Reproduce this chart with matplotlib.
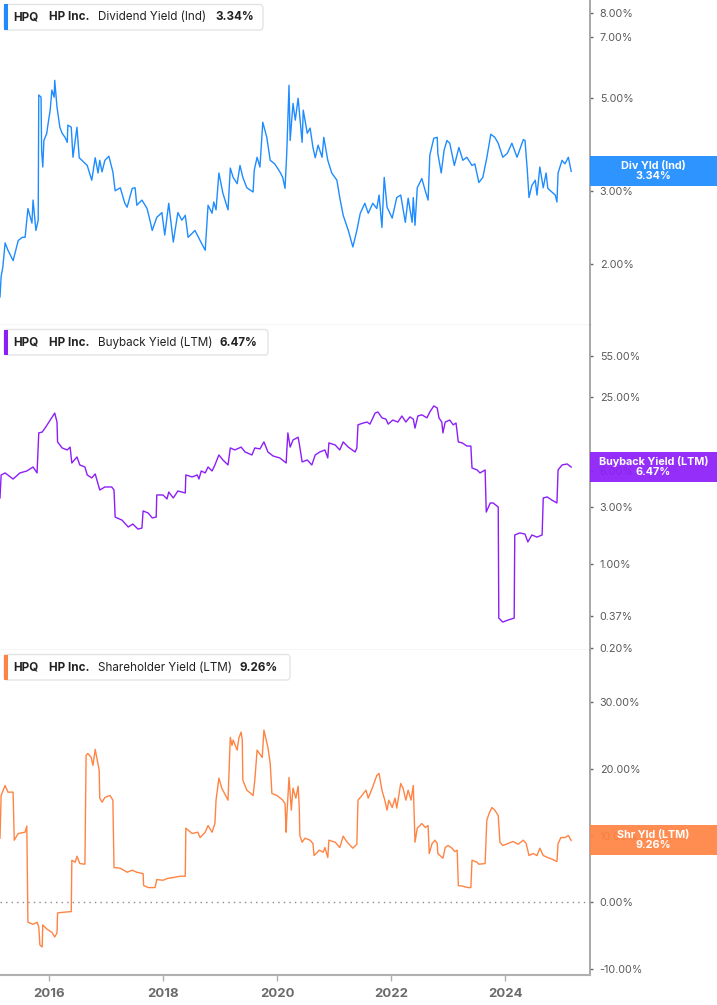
import matplotlib
matplotlib.use("Agg")
import matplotlib.pyplot as plt
from matplotlib.patches import Rectangle, FancyBboxPatch
from matplotlib.ticker import FixedLocator, FuncFormatter, NullLocator

plt.rcParams['font.family'] = ['Inter', 'DejaVu Sans']

# ---- data (decimal year, yield in %) ----
div_dates = [2015.14, 2015.16, 2015.19, 2015.23, 2015.28, 2015.37, 2015.46, 2015.53, 2015.58, 2015.63,
             2015.70, 2015.72, 2015.77, 2015.81, 2015.82, 2015.86, 2015.87, 2015.89, 2015.91, 2015.96,
             2015.98, 2016.02, 2016.05, 2016.09, 2016.10, 2016.14, 2016.19, 2016.23, 2016.28, 2016.32,
             2016.33, 2016.39, 2016.42, 2016.49, 2016.53, 2016.67, 2016.75, 2016.81, 2016.86, 2016.89,
             2016.93, 2016.98, 2017.05, 2017.12, 2017.16, 2017.25, 2017.33, 2017.37, 2017.46, 2017.51,
             2017.54, 2017.63, 2017.72, 2017.77, 2017.81, 2017.89, 2017.98, 2018.03, 2018.10, 2018.18,
             2018.26, 2018.33, 2018.39, 2018.44, 2018.56, 2018.65, 2018.74, 2018.77, 2018.79, 2018.86,
             2018.89, 2018.93, 2018.98, 2019.05, 2019.14, 2019.18, 2019.23, 2019.30, 2019.35, 2019.40,
             2019.47, 2019.58, 2019.60, 2019.65, 2019.70, 2019.75, 2019.82, 2019.88, 2019.96, 2020.05,
             2020.10, 2020.14, 2020.17, 2020.21, 2020.23, 2020.28, 2020.32, 2020.37, 2020.44, 2020.46,
             2020.53, 2020.58, 2020.63, 2020.67, 2020.72, 2020.79, 2020.82, 2020.89, 2020.96, 2021.05,
             2021.10, 2021.16, 2021.25, 2021.33, 2021.40, 2021.46, 2021.54, 2021.60, 2021.68, 2021.75,
             2021.79, 2021.84, 2021.88, 2021.93, 2022.02, 2022.10, 2022.17, 2022.25, 2022.30, 2022.37,
             2022.39, 2022.42, 2022.46, 2022.54, 2022.60, 2022.65, 2022.68, 2022.75, 2022.81, 2022.82,
             2022.88, 2022.93, 2022.98, 2023.03, 2023.11, 2023.19, 2023.26, 2023.33, 2023.42, 2023.47,
             2023.54, 2023.61, 2023.68, 2023.75, 2023.82, 2023.88, 2023.96, 2024.04, 2024.12, 2024.21,
             2024.32, 2024.35, 2024.39, 2024.42, 2024.47, 2024.53, 2024.56, 2024.61, 2024.67, 2024.72,
             2024.75, 2024.82, 2024.88, 2024.91, 2024.93, 2025.00, 2025.05, 2025.11, 2025.16]
div_vals = [1.67, 1.87, 1.97, 2.25, 2.16, 2.04, 2.28, 2.32, 2.32, 2.72,
            2.51, 2.85, 2.41, 2.55, 5.09, 5.03, 3.75, 3.42, 3.96, 4.12,
            4.31, 4.68, 5.23, 5.03, 5.52, 4.76, 4.26, 4.12, 4.03, 3.92,
            4.31, 4.26, 3.61, 4.26, 3.60, 3.45, 3.18, 3.60, 3.31, 3.55,
            3.33, 3.55, 3.63, 3.33, 3.00, 3.05, 2.80, 2.74, 3.04, 3.05,
            2.77, 2.85, 2.72, 2.55, 2.41, 2.59, 2.66, 2.35, 2.80, 2.26,
            2.66, 2.55, 2.62, 2.32, 2.41, 2.28, 2.16, 2.52, 2.77, 2.65,
            2.82, 2.70, 3.31, 2.96, 2.70, 3.40, 3.23, 3.12, 3.45, 3.23,
            3.05, 2.98, 3.36, 3.61, 3.42, 4.38, 4.03, 3.55, 3.48, 3.33,
            3.23, 3.04, 3.69, 5.37, 3.96, 4.86, 4.43, 5.00, 3.92, 4.68,
            4.12, 4.24, 3.81, 3.60, 3.86, 3.61, 4.03, 3.55, 3.31, 3.18,
            2.89, 2.62, 2.41, 2.20, 2.41, 2.65, 2.80, 2.65, 2.80, 2.72,
            2.93, 2.45, 3.23, 2.74, 2.58, 2.89, 2.93, 2.52, 2.88, 2.52,
            2.89, 2.48, 3.05, 3.21, 3.00, 2.85, 3.65, 4.01, 4.03, 3.69,
            3.31, 3.75, 3.96, 3.90, 3.45, 3.81, 3.55, 3.61, 3.45, 3.48,
            3.14, 3.23, 3.60, 4.10, 4.03, 3.90, 3.61, 3.69, 3.90, 3.61,
            3.98, 3.96, 3.36, 2.89, 3.09, 3.18, 2.93, 3.42, 3.05, 3.31,
            3.04, 2.98, 2.93, 2.82, 3.31, 3.55, 3.48, 3.61, 3.34]

buy_dates = [2015.14, 2015.16, 2015.23, 2015.37, 2015.49, 2015.61, 2015.72, 2015.79, 2015.82, 2015.88,
             2015.93, 2016.02, 2016.10, 2016.14, 2016.15, 2016.23, 2016.32, 2016.37, 2016.40, 2016.49,
             2016.54, 2016.63, 2016.67, 2016.75, 2016.81, 2016.89, 2016.98, 2017.10, 2017.14, 2017.16,
             2017.28, 2017.39, 2017.47, 2017.56, 2017.63, 2017.65, 2017.74, 2017.81, 2017.88, 2017.89,
             2018.00, 2018.07, 2018.10, 2018.18, 2018.26, 2018.39, 2018.40, 2018.51, 2018.60, 2018.63,
             2018.67, 2018.74, 2018.79, 2018.86, 2018.91, 2018.98, 2019.05, 2019.14, 2019.18, 2019.26,
             2019.37, 2019.44, 2019.56, 2019.61, 2019.70, 2019.77, 2019.84, 2019.93, 2020.05, 2020.16,
             2020.17, 2020.19, 2020.23, 2020.28, 2020.37, 2020.40, 2020.44, 2020.53, 2020.61, 2020.67,
             2020.75, 2020.84, 2020.89, 2020.91, 2021.02, 2021.10, 2021.16, 2021.25, 2021.37, 2021.40,
             2021.42, 2021.51, 2021.58, 2021.63, 2021.72, 2021.77, 2021.84, 2021.91, 2021.95, 2022.03,
             2022.12, 2022.19, 2022.26, 2022.33, 2022.39, 2022.42, 2022.47, 2022.54, 2022.63, 2022.68,
             2022.75, 2022.81, 2022.84, 2022.89, 2022.91, 2022.95, 2023.03, 2023.09, 2023.14, 2023.18,
             2023.25, 2023.33, 2023.40, 2023.42, 2023.51, 2023.56, 2023.65, 2023.67, 2023.74, 2023.79,
             2023.88, 2023.89, 2023.96, 2024.05, 2024.16, 2024.17, 2024.26, 2024.35, 2024.40, 2024.47,
             2024.56, 2024.65, 2024.67, 2024.74, 2024.82, 2024.91, 2024.93, 2025.00, 2025.09, 2025.16]
buy_vals = [3.57, 5.56, 5.78, 5.14, 5.78, 6.00, 6.48, 5.78, 12.5, 12.7,
            13.7, 16.0, 18.3, 15.4, 10.5, 9.35, 9.00, 9.50, 7.00, 7.86,
            6.74, 6.48, 5.56, 5.25, 5.67, 4.16, 4.41, 4.41, 4.16, 2.47,
            2.33, 2.04, 2.16, 1.96, 2.00, 2.78, 2.67, 2.43, 2.47, 3.78,
            3.78, 3.50, 4.00, 3.57, 4.08, 3.93, 5.56, 5.35, 5.56, 5.14,
            6.00, 5.78, 6.48, 6.00, 6.74, 8.17, 7.42, 6.74, 9.35, 9.00,
            9.50, 8.65, 8.17, 9.35, 9.18, 10.5, 8.65, 8.01, 7.71, 7.00,
            8.65, 12.5, 9.50, 10.9, 11.5, 9.50, 7.14, 7.42, 6.74, 8.17,
            8.65, 9.00, 7.71, 10.3, 9.90, 9.00, 10.5, 9.50, 8.65, 9.35,
            14.6, 15.1, 15.4, 14.8, 18.3, 18.7, 16.7, 16.3, 14.8, 16.0,
            15.4, 17.3, 15.4, 17.0, 16.3, 13.7, 17.3, 17.7, 16.7, 18.7,
            21.0, 20.2, 16.7, 15.4, 12.5, 15.4, 16.0, 14.6, 15.1, 10.5,
            10.3, 9.70, 9.70, 6.36, 6.12, 5.78, 6.12, 2.72, 3.24, 3.24,
            3.00, 0.353, 0.327, 0.34, 0.353, 1.75, 1.82, 1.78, 1.53, 1.75,
            1.68, 1.75, 3.57, 3.64, 3.43, 3.24, 6.12, 6.74, 6.87, 6.47]

shr_dates = [2015.14, 2015.16, 2015.23, 2015.28, 2015.37, 2015.39, 2015.46, 2015.58, 2015.61, 2015.63,
             2015.72, 2015.79, 2015.82, 2015.84, 2015.88, 2015.89, 2015.96, 2016.05, 2016.10, 2016.14,
             2016.15, 2016.25, 2016.39, 2016.40, 2016.46, 2016.49, 2016.54, 2016.63, 2016.65, 2016.68,
             2016.74, 2016.77, 2016.81, 2016.84, 2016.88, 2016.89, 2016.93, 2016.98, 2017.07, 2017.12,
             2017.14, 2017.25, 2017.37, 2017.46, 2017.54, 2017.65, 2017.66, 2017.74, 2017.86, 2017.89,
             2018.00, 2018.09, 2018.18, 2018.30, 2018.39, 2018.40, 2018.51, 2018.61, 2018.65, 2018.74,
             2018.79, 2018.86, 2018.91, 2018.93, 2018.98, 2019.03, 2019.14, 2019.18, 2019.21, 2019.23,
             2019.30, 2019.33, 2019.37, 2019.39, 2019.40, 2019.47, 2019.58, 2019.61, 2019.65, 2019.74,
             2019.77, 2019.84, 2019.88, 2019.91, 2020.00, 2020.10, 2020.14, 2020.16, 2020.17, 2020.21,
             2020.25, 2020.28, 2020.33, 2020.37, 2020.39, 2020.40, 2020.44, 2020.49, 2020.58, 2020.63,
             2020.65, 2020.74, 2020.81, 2020.84, 2020.89, 2020.91, 2021.02, 2021.10, 2021.16, 2021.23,
             2021.33, 2021.40, 2021.42, 2021.49, 2021.56, 2021.60, 2021.67, 2021.72, 2021.75, 2021.79,
             2021.84, 2021.89, 2021.93, 2021.96, 2022.02, 2022.07, 2022.10, 2022.17, 2022.21, 2022.26,
             2022.30, 2022.35, 2022.39, 2022.42, 2022.46, 2022.54, 2022.60, 2022.65, 2022.67, 2022.72,
             2022.77, 2022.81, 2022.82, 2022.91, 2022.95, 2023.00, 2023.07, 2023.12, 2023.16, 2023.18,
             2023.26, 2023.35, 2023.40, 2023.42, 2023.51, 2023.54, 2023.65, 2023.68, 2023.72, 2023.77,
             2023.82, 2023.88, 2023.91, 2023.96, 2024.05, 2024.14, 2024.23, 2024.32, 2024.37, 2024.42,
             2024.49, 2024.56, 2024.61, 2024.67, 2024.75, 2024.84, 2024.91, 2024.93, 2024.98, 2025.05,
             2025.11, 2025.16]
shr_vals = [9.6, 16.0, 17.5, 16.5, 16.5, 9.3, 10.3, 10.5, 11.4, -3.0,
            -3.3, -3.0, -3.7, -6.4, -6.7, -3.4, -4.0, -4.5, -5.2, -4.6,
            -1.6, -1.5, -1.4, 6.3, 6.0, 6.9, 5.8, 5.7, 22.0, 22.3,
            21.7, 20.5, 22.9, 21.6, 19.8, 15.6, 15.0, 15.7, 16.0, 15.3,
            5.2, 5.1, 4.5, 4.8, 4.5, 4.3, 2.5, 2.2, 2.2, 3.4,
            3.3, 3.6, 3.7, 3.9, 3.9, 11.1, 10.3, 10.5, 9.7, 10.5,
            11.5, 10.5, 11.8, 15.3, 18.6, 17.1, 15.3, 24.7, 23.5, 24.3,
            22.8, 24.6, 25.5, 24.3, 18.3, 16.8, 16.0, 18.3, 22.8, 21.7,
            25.8, 23.2, 20.8, 16.3, 16.0, 15.3, 14.8, 10.5, 12.7, 18.7,
            13.8, 17.1, 15.6, 17.4, 14.2, 10.0, 9.0, 9.6, 9.3, 8.8,
            7.0, 7.8, 7.5, 8.2, 6.7, 9.3, 9.0, 8.2, 9.9, 9.0,
            8.1, 8.7, 15.3, 16.0, 16.8, 15.6, 17.1, 18.3, 19.0, 19.3,
            16.8, 15.3, 13.8, 15.3, 14.2, 15.6, 14.1, 17.8, 17.1, 15.3,
            16.8, 15.3, 17.5, 9.0, 11.1, 11.8, 11.2, 11.5, 7.3, 8.8,
            9.3, 8.8, 7.3, 6.6, 8.2, 8.5, 8.1, 7.6, 7.8, 2.5,
            2.4, 2.2, 2.2, 6.3, 6.0, 5.7, 5.8, 12.3, 13.3, 14.2,
            13.8, 13.0, 9.0, 8.5, 8.8, 9.1, 8.7, 9.3, 8.8, 7.0,
            7.3, 7.0, 8.1, 7.0, 6.7, 6.4, 6.1, 8.8, 9.7, 9.7,
            10.0, 9.26]

year_ticks = [2016, 2018, 2020, 2022, 2024]
div_ticks = [2, 3, 5, 7, 8]
buy_ticks = [0.2, 0.37, 1, 3, 6, 25, 55]
shr_ticks = [-10, 0, 10, 20, 30]

W, H = 717, 1005
fig = plt.figure(figsize=(W / 100, H / 100), dpi=100)


def fig_rect(x0, y0, x1, y1):
    # pixel box (origin top-left) -> figure fraction [left, bottom, width, height]
    return [x0 / W, 1 - y1 / H, (x1 - x0) / W, (y1 - y0) / H]


panels = [
    dict(dates=div_dates, vals=div_vals, ticks=div_ticks, color='#1e8cff', top=0, bottom=325,
         log=True, ylim=(1.43, 8.6), name='Dividend Yield (Ind)', short='Div Yld (Ind)',
         value_x=215, box_end=263),
    dict(dates=buy_dates, vals=buy_vals, ticks=buy_ticks, color='#8c1ef8', top=325, bottom=650,
         log=True, ylim=(0.191, 99.8), name='Buyback Yield (LTM)', short='Buyback Yield (LTM)',
         value_x=219, box_end=268),
    dict(dates=shr_dates, vals=shr_vals, ticks=shr_ticks, color='#ff8444', top=650, bottom=975,
         log=False, ylim=(-10.9, 37.8), name='Shareholder Yield (LTM)', short='Shr Yld (LTM)',
         value_x=240, box_end=290),
]

axes = []
for i, p in enumerate(panels):
    ax = fig.add_axes(fig_rect(0, p['top'], 590, p['bottom']))
    axes.append(ax)
    ax.plot(p['dates'], p['vals'], color=p['color'], lw=1.0)
    if p['log']:
        ax.set_yscale('log')
    ax.set_ylim(*p['ylim'])
    ax.set_xlim(2015.14, 2025.49)

    ax.yaxis.tick_right()
    ax.yaxis.set_major_locator(FixedLocator(p['ticks']))
    ax.yaxis.set_minor_locator(NullLocator())
    ax.yaxis.set_major_formatter(FuncFormatter(lambda v, pos: '%.2f%%' % v))
    ax.tick_params(axis='y', length=2, width=1, color='#666666', labelcolor='#5a5a5a',
                   labelsize=7.8, pad=5)

    for s in ['left', 'top']:
        ax.spines[s].set_visible(False)
    ax.spines['right'].set_color('#9a9a9a')
    ax.spines['right'].set_linewidth(1.2)

    ax.xaxis.set_major_locator(FixedLocator(year_ticks))
    ax.xaxis.set_minor_locator(NullLocator())
    if i < 2:
        ax.spines['bottom'].set_color('#d4d4d4')
        ax.spines['bottom'].set_linewidth(1)
        ax.tick_params(axis='x', length=0, labelbottom=False)
    else:
        ax.spines['bottom'].set_color('#b0b0b0')
        ax.spines['bottom'].set_linewidth(1.5)
        ax.set_xticklabels([str(y) for y in year_ticks])
        ax.tick_params(axis='x', length=4, width=1, color='#b0b0b0', labelcolor='#6a6a6a',
                       labelsize=9.5, pad=5)
        for lbl in ax.get_xticklabels():
            lbl.set_fontweight('bold')
        ax.axhline(0, color='#8a8a8a', lw=1, ls=(0, (1, 3)), zorder=1)

    # legend chip in the top-left corner
    top = p['top'] + 4.5
    chip = FancyBboxPatch((4 / W, 1 - (top + 25.5) / H), (p['box_end'] - 4) / W, 25.5 / H,
                          boxstyle='round,pad=0,rounding_size=0.004', transform=fig.transFigure,
                          facecolor='white', edgecolor='#e4e4e4', lw=1, zorder=5)
    fig.patches.append(chip)
    fig.patches.append(Rectangle((4 / W, 1 - (top + 25.5) / H), 3.5 / W, 25.5 / H,
                                 transform=fig.transFigure, facecolor=p['color'], lw=0, zorder=6))
    ty = 1 - (top + 13) / H
    fig.text(13 / W, ty, 'HPQ', fontsize=8.4, fontweight='bold', color='#222222', va='center', zorder=7)
    fig.text(49 / W, ty, 'HP Inc.', fontsize=8.4, fontweight='bold', color='#222222', va='center', zorder=7)
    fig.text(98 / W, ty, p['name'], fontsize=8.4, color='#222222', va='center', zorder=7)
    fig.text(p['value_x'] / W, ty, '%.2f%%' % p['vals'][-1], fontsize=8.4, fontweight='bold',
             color='#222222', va='center', zorder=7)

# callout boxes on the right axis at the last value
for ax, p in zip(axes, panels):
    disp = ax.transData.transform((p['dates'][-1], p['vals'][-1]))
    yc = fig.transFigure.inverted().transform(disp)[1]
    bh = 30 / H
    fig.patches.append(Rectangle((590 / W, yc - bh / 2), 127 / W, bh, transform=fig.transFigure,
                                 facecolor=p['color'], alpha=0.93, lw=0, zorder=5))
    fig.text(653.5 / W, yc + 5.5 / H, p['short'], fontsize=7.8, fontweight='bold', color='white',
             ha='center', va='center', zorder=7)
    fig.text(653.5 / W, yc - 5 / H, '%.2f%%' % p['vals'][-1], fontsize=7.8, fontweight='bold',
             color='white', ha='center', va='center', zorder=7)

fig.savefig('out.png', dpi=100)
